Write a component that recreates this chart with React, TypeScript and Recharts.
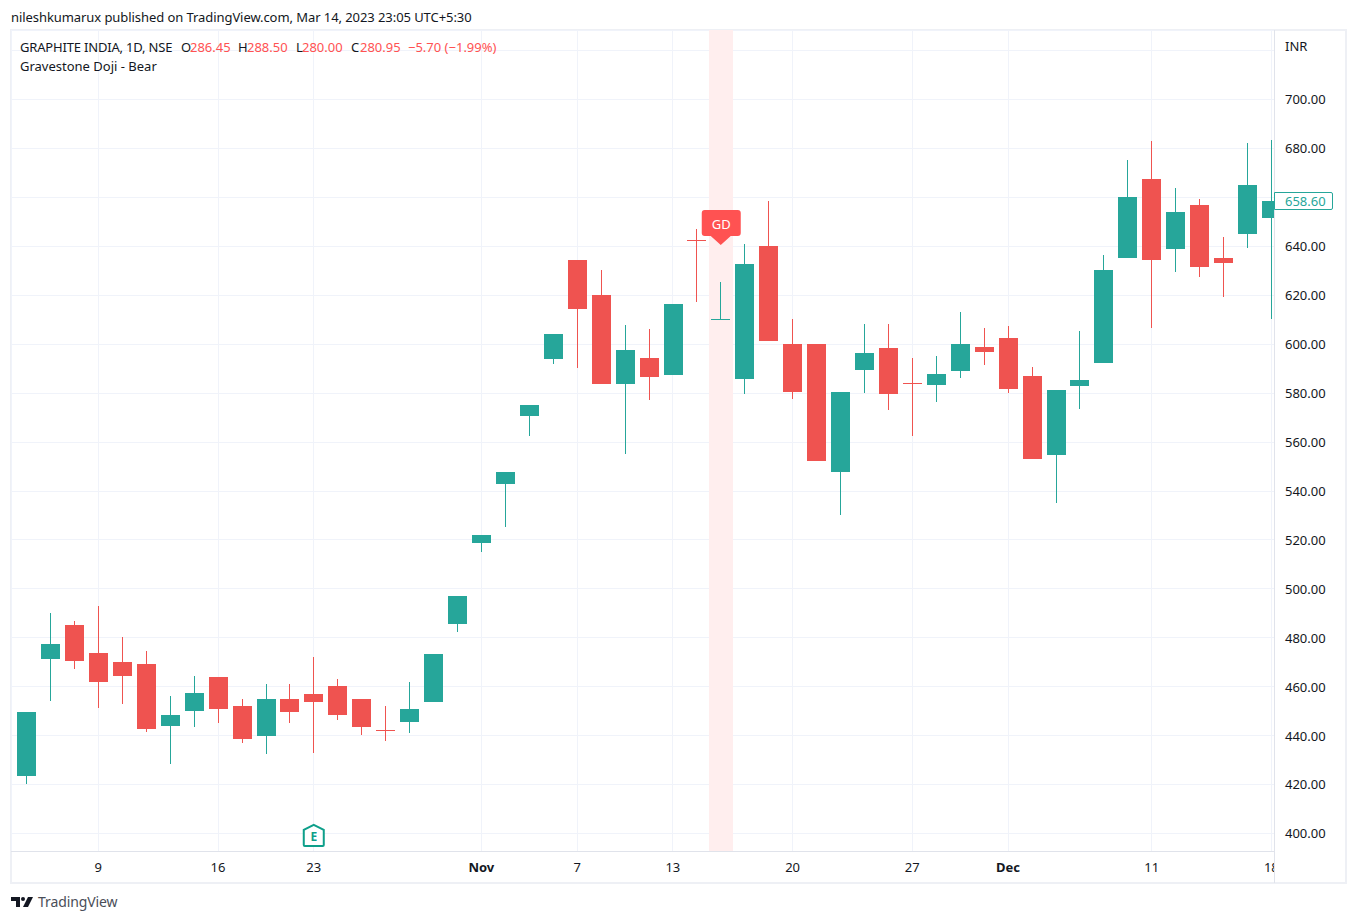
import { Bar, CartesianGrid, ComposedChart, ReferenceArea, ReferenceDot, XAxis, YAxis } from 'recharts'

const opens = [
  423.5, 471.3, 485.2, 473.8, 470.1, 469.3, 443.9, 450.1, 464.0, 452.1, 439.9, 455.0, 457.0,
  460.3, 455.0, 442.3, 445.6, 453.8, 485.6, 518.7, 542.9, 570.7, 593.9, 634.4, 620.1, 583.7,
  594.4, 587.4, 642.6, 609.9, 585.8, 640.1, 600.1, 600.1, 547.8, 589.5, 598.4, 584.1, 583.3,
  589.0, 598.9, 602.5, 587.0, 554.7, 582.9, 592.3, 635.2, 667.5, 638.9, 656.9, 635.2, 645.0, 651.6,
]
const highs = [
  449.7, 490.1, 486.9, 493.0, 480.3, 474.6, 456.2, 464.4, 464.0, 455.0, 461.1, 461.1, 472.1,
  463.2, 455.0, 452.1, 461.9, 473.4, 497.1, 522.0, 547.8, 575.2, 604.2, 634.4, 630.3, 607.9,
  606.2, 616.4, 647.1, 625.4, 641.0, 658.5, 610.3, 600.1, 580.5, 608.3, 608.3, 594.4, 595.2,
  613.2, 606.6, 607.4, 590.7, 581.3, 605.4, 636.5, 675.3, 683.1, 663.9, 659.4, 643.8, 682.2, 683.5,
]
const lows = [
  420.2, 454.2, 467.2, 451.3, 452.9, 441.5, 428.4, 443.5, 445.2, 437.0, 432.5, 445.2, 432.9,
  446.4, 440.3, 437.8, 441.1, 453.8, 482.4, 515.1, 525.3, 562.5, 591.9, 590.3, 583.7, 555.1,
  577.2, 587.4, 617.3, 609.9, 579.6, 601.3, 577.6, 552.3, 530.2, 580.1, 573.1, 562.5, 576.4,
  586.2, 591.5, 580.1, 553.1, 535.1, 573.5, 592.3, 635.2, 606.6, 629.5, 627.5, 619.3, 639.3, 610.3,
]
const closes = [
  449.7, 477.5, 470.5, 461.9, 464.4, 442.7, 448.4, 457.4, 450.9, 438.6, 455.0, 449.7, 453.8,
  448.4, 443.5, 441.9, 450.9, 473.4, 497.1, 522.0, 547.8, 575.2, 604.2, 614.4, 583.7, 597.6,
  586.6, 616.4, 642.2, 610.3, 632.8, 601.3, 580.5, 552.3, 580.5, 596.4, 579.6, 583.7, 587.8,
  600.1, 596.8, 581.7, 553.1, 581.3, 585.4, 630.3, 660.2, 634.4, 654.1, 631.6, 633.2, 665.1, 658.6,
]

const xTickPositions = [3, 8, 12, 19, 23, 27, 32, 37, 41, 47, 52]
const xTickLabels = ['9', '16', '23', 'Nov', '7', '13', '20', '27', 'Dec', '11', '18']
const monthLabels = ['Nov', 'Dec']
const yTicks = [400, 420, 440, 460, 480, 500, 520, 540, 560, 580, 600, 620, 640, 660, 680, 700, 720]
// gridline stays but the label is covered by INR / the last price tag
const hiddenYLabels = [660, 720]

const patternIndex = 29
const patternPrice = 640.6
const earningsIndex = 12
const earningsPrice = 399

const candles = opens.map((open, i) => ({
  i,
  open,
  close: closes[i],
  range: [lows[i], highs[i]],
}))

const UP = '#26a69a'
const DOWN = '#ef5350'
const TEXT = '#131722'
const RED_TEXT = '#ff5252'
const FONT = '"Noto Sans", sans-serif'

function Candle(props: any) {
  const { x, y, width, height, payload } = props
  const [low, high] = payload.range
  const perUnit = height / (high - low)
  const color = payload.close >= payload.open ? UP : DOWN
  const center = Math.round(x + width / 2 + 0.12)
  const top = y + (high - Math.max(payload.open, payload.close)) * perUnit
  const bodyH = Math.abs(payload.open - payload.close) * perUnit
  return (
    <g shapeRendering="crispEdges">
      <rect x={center} y={y} width={1} height={height} fill={color} />
      <rect x={center - 9} y={Math.round(top)} width={19} height={Math.max(1, Math.round(bodyH))} fill={color} />
    </g>
  )
}

function XTick(props: any) {
  const { x, y, payload } = props
  const label = xTickLabels[xTickPositions.indexOf(payload.value)]
  return (
    <g>
      <clipPath id={'xclip' + payload.value}>
        <rect x={0} y={0} width={1263} height={900} />
      </clipPath>
      <g clipPath={'url(#xclip' + payload.value + ')'}>
        <text
          x={x}
          y={y + 13}
          textAnchor="middle"
          fontSize={13}
          fontFamily={FONT}
          fontWeight={monthLabels.includes(label) ? 700 : 400}
          fill={TEXT}
        >
          {label}
        </text>
      </g>
    </g>
  )
}

function PatternPin({ cx, cy }: any) {
  const l = cx - 19
  const r = cx + 20
  const t = cy - 35
  const b = cy - 9
  return (
    <g shapeRendering="auto">
      <path
        d={`M${l + 3} ${t} H${r - 3} Q${r} ${t} ${r} ${t + 3} V${b - 3} Q${r} ${b} ${r - 3} ${b} H${cx + 10} L${cx} ${cy} L${cx - 10} ${b} H${l + 3} Q${l} ${b} ${l} ${b - 3} V${t + 3} Q${l} ${t} ${l + 3} ${t} Z`}
        fill="#ff5252"
      />
      <text x={cx + 0.5} y={cy - 16} textAnchor="middle" fontSize={13} fontFamily={FONT} fill="#fff">
        GD
      </text>
    </g>
  )
}

function EarningsMark({ cx, cy }: any) {
  return (
    <g shapeRendering="auto">
      <path
        d={`M${cx} ${cy - 11} L${cx + 10} ${cy - 6} V${cy + 9} Q${cx + 10} ${cy + 10} ${cx + 9} ${cy + 10} H${cx - 9} Q${cx - 10} ${cy + 10} ${cx - 10} ${cy + 9} V${cy - 6} Z`}
        fill="#fff"
        stroke="#0e9f8a"
        strokeWidth={2}
      />
      <text x={cx} y={cy + 5} textAnchor="middle" fontSize={12} fontWeight={700} fontFamily={FONT} fill="#0e9f8a">
        E
      </text>
    </g>
  )
}

const abs = (left: number, top: number, color = TEXT, size = 13, spacing = 0): React.CSSProperties => ({
  position: 'absolute',
  left,
  top,
  color,
  fontSize: size,
  fontFamily: FONT,
  letterSpacing: spacing,
  lineHeight: '18px',
  whiteSpace: 'nowrap',
})

export default function App() {
  return (
    <div style={{ position: 'absolute', left: 0, top: 0, width: 1357, height: 922, background: '#fff', overflow: 'hidden' }}>
      <div style={abs(11, 8, TEXT, 13, -0.07)}>nileshkumarux published on TradingView.com, Mar 14, 2023 23:05 UTC+5:30</div>

      <div style={{ position: 'absolute', left: 10, top: 29, width: 1337, height: 855, border: '2px solid #eef0f5', boxSizing: 'border-box' }} />

      <div style={{ position: 'absolute', left: 11, top: 30 }}>
        <ComposedChart
          width={1335}
          height={853}
          data={candles}
          margin={{ top: 0, right: 0, bottom: 0, left: 0 }}
          style={{ shapeRendering: 'crispEdges' }}
        >
          <CartesianGrid stroke="#f0f3fa" strokeWidth={1} />
          <ReferenceArea x1={patternIndex - 0.5} x2={patternIndex + 0.5} fill="#ffeeee" fillOpacity={1} stroke="none" />
          <XAxis
            dataKey="i"
            type="number"
            domain={[-0.647, 52.11]}
            allowDataOverflow
            ticks={xTickPositions}
            interval={0}
            height={32}
            tickLine={false}
            axisLine={{ stroke: '#e0e3eb' }}
            tick={<XTick />}
          />
          <YAxis
            orientation="right"
            type="number"
            domain={[392.85, 728.44]}
            allowDataOverflow
            ticks={yTicks}
            interval={0}
            width={72}
            tickLine={false}
            tickMargin={5}
            axisLine={{ stroke: '#e0e3eb' }}
            tick={{ fill: TEXT, fontSize: 13, fontFamily: FONT, dy: 0.3 }}
            tickFormatter={(v: number) => (hiddenYLabels.includes(v) ? '' : v.toFixed(2))}
          />
          <Bar dataKey="range" barSize={19} shape={<Candle />} isAnimationActive={false} />
          <ReferenceDot x={patternIndex} y={patternPrice} r={0} shape={<PatternPin />} />
          <ReferenceDot x={earningsIndex} y={earningsPrice} r={0} shape={<EarningsMark />} />
        </ComposedChart>
      </div>

      <div style={{ position: 'absolute', left: 1274, top: 851, width: 1, height: 32, background: '#e0e3eb' }} />

      <div style={abs(20, 38, TEXT, 13, -0.18)}>GRAPHITE INDIA, 1D, NSE</div>
      <div style={abs(181, 38)}>O</div>
      <div style={abs(190, 38, RED_TEXT)}>286.45</div>
      <div style={abs(238, 38)}>H</div>
      <div style={abs(247, 38, RED_TEXT)}>288.50</div>
      <div style={abs(296, 38)}>L</div>
      <div style={abs(302, 38, RED_TEXT)}>280.00</div>
      <div style={abs(351, 38)}>C</div>
      <div style={abs(360, 38, RED_TEXT)}>280.95</div>
      <div style={abs(408, 38, RED_TEXT)}>−5.70 (−1.99%)</div>
      <div style={abs(20, 57)}>Gravestone Doji - Bear</div>
      <div style={abs(1285, 37)}>INR</div>

      <div
        style={{
          position: 'absolute',
          left: 1274,
          top: 192,
          width: 59,
          height: 18,
          boxSizing: 'border-box',
          border: `1px solid ${UP}`,
          borderRadius: '0 2px 2px 0',
          background: '#fff',
        }}
      />
      <div style={abs(1285, 192, UP)}>658.60</div>

      <svg style={{ position: 'absolute', left: 11, top: 897 }} width={24} height={12} viewBox="0 0 24 12">
        <path d="M0 0H9V10H5V4H0Z" fill={TEXT} />
        <circle cx={12} cy={2} r={2} fill={TEXT} />
        <path d="M17 0H22L17 10H12Z" fill={TEXT} />
      </svg>
      <div style={abs(38, 893, '#4a4e58', 14, -0.1)}>TradingView</div>
    </div>
  )
}
